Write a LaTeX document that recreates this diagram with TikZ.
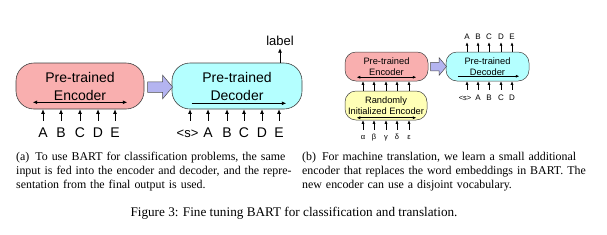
\documentclass[tikz,border=0pt]{standalone}
\usepackage{fontspec}
\setmainfont{Liberation Serif}
\newfontfamily\diafont{Liberation Sans}
\usetikzlibrary{arrows.meta,shapes.arrows}
\definecolor{encpink}{HTML}{F9AFAF}
\definecolor{deccyan}{HTML}{B4FFFF}
\definecolor{newyellow}{HTML}{FFFFB6}
\definecolor{ftblue}{HTML}{B4B4F0}
\newlength{\capw}
\setlength{\capw}{272pt}

\begin{document}
\begin{tikzpicture}[x=1pt, y=-1pt,
    bigbox/.style={draw=black!75, line width=0.6pt, rounded corners=18pt,
      minimum height=46pt, inner sep=0pt, align=center,
      font=\diafont\fontsize{14}{18}\selectfont},
    smallbox/.style={draw=black!75, line width=0.5pt, rounded corners=11pt,
      minimum height=29pt, inner sep=0pt, align=center,
      font=\diafont\fontsize{9.3}{11}\selectfont},
    bigtok/.style={font=\diafont\fontsize{14}{16}\selectfont, inner sep=0pt,
      anchor=base, text height=16pt, text depth=0pt},
    smalltok/.style={font=\diafont\fontsize{8}{10}\selectfont, inner sep=0pt,
      anchor=base},
    greektok/.style={font=\diafont\fontsize{7.5}{9}\selectfont, inner sep=0pt,
      anchor=base, text height=9pt, text depth=0pt},
    bigarr/.style={-{Latex[length=4.5pt,width=4pt]}, line width=0.8pt},
    smallarr/.style={-{Latex[length=3.5pt,width=3pt]}, line width=0.6pt},
    ftarrow/.style={single arrow, draw=black!70, fill=ftblue, line width=0.5pt,
      inner xsep=0pt, text height=0pt, text depth=0pt, single arrow tip angle=100},
    subcap/.style={font=\fontsize{11.9}{13.8}\selectfont, inner sep=0pt,
      text width=\capw, align=left, anchor=base west},
  ]
  \useasboundingbox (0,0) rectangle (607,234);

  % ---- panel (a): classification
  \node[bigbox, fill=encpink, minimum width=128pt] (enc) at (80,86) {Pre-trained\\Encoder};
  \node[bigbox, fill=deccyan, minimum width=130pt] (dec) at (237,86) {Pre-trained\\Decoder};
  \draw[{Latex[length=4.5pt,width=4pt]}-{Latex[length=4.5pt,width=4pt]}, line width=0.9pt]
    ([xshift=17pt,yshift=7pt]enc.south west) -- ([xshift=-17pt,yshift=7pt]enc.south east);
  \draw[bigarr, line width=0.9pt]
    ([xshift=20pt,yshift=6pt]dec.south west) -- ([xshift=-16pt,yshift=6pt]dec.south east);
  \node[ftarrow, inner ysep=5pt, single arrow head extend=6.5pt, minimum height=25pt,
    anchor=west] (ftA) at ([xshift=3pt,yshift=-1pt]enc.east) {};
  \foreach \t/\x [count=\i] in {A/43,B/61,C/80,D/98,E/115} {
    \node[bigtok] (ea\i) at (\x,137) {\t};
    \draw[bigarr] (ea\i.north) -- (ea\i.north |- enc.south);
  }
  \node[bigtok, font=\diafont\fontsize{13}{16}\selectfont] (da1) at (187.5,137) {<s>};
  \draw[bigarr] ([xshift=2.5pt]da1.north) -- ([xshift=2.5pt]da1.north |- dec.south);
  \foreach \t/\x [count=\i from 2] in {A/208,B/227,C/244,D/262,E/279} {
    \node[bigtok] (da\i) at (\x,137) {\t};
    \draw[bigarr] (da\i.north) -- (da\i.north |- dec.south);
  }
  \node[font=\diafont\fontsize{13}{15}\selectfont, inner sep=0pt, anchor=base,
    text depth=2.5pt] (lbl) at (280,45.5) {label};
  \draw[bigarr] (lbl.south |- dec.north) -- (lbl.south);

  % ---- panel (b): translation
  \node[smallbox, fill=encpink, minimum width=83pt] (penc) at (386.5,66.5) {Pre-trained\\Encoder};
  \node[smallbox, fill=newyellow, minimum width=82pt] (renc) at (386,105.5) {Randomly\\Initialized Encoder};
  \node[smallbox, fill=deccyan, minimum width=83pt] (pdec) at (487.5,66.5) {Pre-trained\\Decoder};
  \draw[{Latex[length=3.5pt,width=3pt]}-{Latex[length=3.5pt,width=3pt]}, line width=0.6pt]
    ([xshift=12pt,yshift=4pt]penc.south west) -- ([xshift=-12pt,yshift=4pt]penc.south east);
  \draw[{Latex[length=3.5pt,width=3pt]}-{Latex[length=3.5pt,width=3pt]}, line width=0.6pt]
    ([xshift=12pt,yshift=2.5pt]renc.south west) -- ([xshift=-11pt,yshift=2.5pt]renc.south east);
  \draw[smallarr]
    ([xshift=12pt,yshift=5pt]pdec.south west) -- ([xshift=-10pt,yshift=5pt]pdec.south east);
  \node[ftarrow, inner ysep=4pt, single arrow head extend=4.5pt, minimum height=16pt,
    anchor=west] (ftB) at ([xshift=2pt]penc.east) {};
  \foreach \t/\x [count=\i] in {α/363,β/374,γ/386,δ/397,ε/409} {
    \node[greektok] (gb\i) at (\x,139) {\t};
    \draw[smallarr] (gb\i.north) -- (gb\i.north |- renc.south);
    \draw[smallarr] (gb\i.north |- renc.north) -- (gb\i.north |- penc.south);
  }
  \node[smalltok, font=\diafont\fontsize{7.5}{10}\selectfont, text height=10pt,
    text depth=0pt] (db1) at (465,100) {<s>};
  \draw[smallarr] ([xshift=2pt]db1.north) -- ([xshift=2pt]db1.north |- pdec.south);
  \foreach \t/\x [count=\i from 2] in {A/478,B/489,C/501,D/512} {
    \node[smalltok, text height=10pt, text depth=0pt] (db\i) at (\x,100) {\t};
    \draw[smallarr] (db\i.north) -- (db\i.north |- pdec.south);
  }
  \foreach \t/\x [count=\i] in {A/467,B/478,C/489,D/501,E/512} {
    \node[smalltok, text depth=3pt] (ob\i) at (\x,39) {\t};
    \draw[smallarr] (ob\i.south |- pdec.north) -- (ob\i.south);
  }

  % ---- captions
  \node[subcap] (capa) at (16,160.5)
    {\makebox[\capw][s]{(a)\hspace{6pt}To use BART for classification problems, the same}\\
     \makebox[\capw][s]{input is fed into the encoder and decoder, and the repre-}\\
     sentation from the final output is used.};
  \node[subcap] (capb) at (302,160.5)
    {\makebox[\capw][s]{(b)\hspace{6pt}For machine translation, we learn a small additional}\\
     \makebox[\capw][s]{encoder that replaces the word embeddings in BART. The}\\
     new encoder can use a disjoint vocabulary.};
  \node[font=\fontsize{13.2}{15}\selectfont, inner sep=0pt, anchor=base] (figcap) at (294,216)
    {Figure 3: Fine tuning BART for classification and translation.};
\end{tikzpicture}
\end{document}
